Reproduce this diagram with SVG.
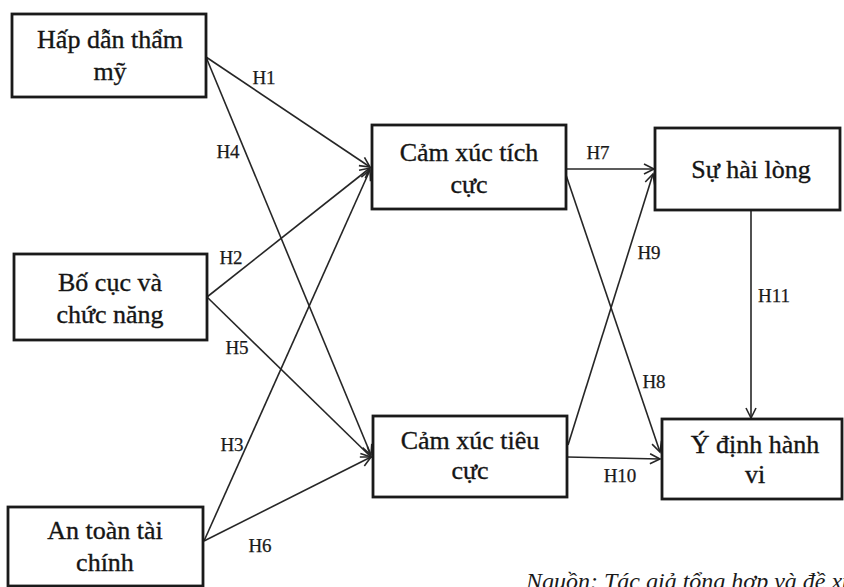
<svg xmlns="http://www.w3.org/2000/svg" width="844" height="587" viewBox="0 0 844 587">
<style>
.box{fill:#fff;stroke:#1a1a1a;stroke-width:2.8}
.t{font-family:"Liberation Serif","Times New Roman",serif;font-size:26px;fill:#151515;stroke:#151515;stroke-width:0.35;text-anchor:middle}
.lbl{font-family:"Liberation Serif","Times New Roman",serif;font-size:19px;fill:#1a1a1a;stroke:#1a1a1a;stroke-width:0.25;text-anchor:middle}
.cap{font-family:"Liberation Serif","Times New Roman",serif;font-size:24px;font-style:italic;fill:#1a1a1a}
.c{fill:none;stroke:#262626;stroke-width:1.6;marker-end:url(#arr)}
</style>
<defs>
<marker id="arr" markerUnits="userSpaceOnUse" markerWidth="14" markerHeight="14" refX="11" refY="6" orient="auto">
<path d="M1,1 L11,6 L1,11" fill="none" stroke="#262626" stroke-width="1.6"/>
</marker>
</defs>
<rect width="844" height="587" fill="#fff"/>
<g id="connectors">
<path class="c" d="M206,57 L370,167"/>
<path class="c" d="M206,57 L371,455"/>
<path class="c" d="M207,297 L370,168"/>
<path class="c" d="M207,297 L371,457"/>
<path class="c" d="M204,541 L370,170"/>
<path class="c" d="M204,541 L371,457"/>
<path class="c" d="M566,169 L654,169"/>
<path class="c" d="M566,175 L660,452"/>
<path class="c" d="M568,445 L653,174"/>
<path class="c" d="M567,457 L660,459"/>
<path class="c" d="M751,211 L751,418"/>
<text class="lbl" x="264" y="84">H1</text>
<text class="lbl" x="228" y="158">H4</text>
<text class="lbl" x="231" y="264">H2</text>
<text class="lbl" x="237" y="354">H5</text>
<text class="lbl" x="232" y="451">H3</text>
<text class="lbl" x="260" y="552">H6</text>
<text class="lbl" x="598" y="159">H7</text>
<text class="lbl" x="649" y="259">H9</text>
<text class="lbl" x="774" y="302">H11</text>
<text class="lbl" x="654" y="388">H8</text>
<text class="lbl" x="620" y="482">H10</text>
</g>
<g id="n1">
<rect class="box" x="12" y="14" width="194" height="83"/>
<text class="t" x="110" y="48">Hấp dẫn thẩm</text>
<text class="t" x="110" y="80">mỹ</text>
</g>
<g id="n2">
<rect class="box" x="14" y="254" width="193" height="86"/>
<text class="t" x="110" y="291">Bố cục và</text>
<text class="t" x="110" y="323">chức năng</text>
</g>
<g id="n3">
<rect class="box" x="8" y="507" width="195" height="79"/>
<text class="t" x="105" y="539">An toàn tài</text>
<text class="t" x="105" y="571">chính</text>
</g>
<g id="n4">
<rect class="box" x="372" y="125" width="194" height="84"/>
<text class="t" x="469" y="161">Cảm xúc tích</text>
<text class="t" x="469" y="193">cực</text>
</g>
<g id="n5">
<rect class="box" x="373" y="416" width="194" height="81"/>
<text class="t" x="470" y="449">Cảm xúc tiêu</text>
<text class="t" x="470" y="479">cực</text>
</g>
<g id="n6">
<rect class="box" x="655" y="128" width="185" height="82"/>
<text class="t" x="751" y="178">Sự hài lòng</text>
</g>
<g id="n7">
<rect class="box" x="662" y="419" width="180" height="80"/>
<text class="t" x="755" y="453">Ý định hành</text>
<text class="t" x="755" y="483">vi</text>
</g>
<text class="cap" x="526" y="589">Nguồn: Tác giả tổng hợp và đề xuất</text>
</svg>
